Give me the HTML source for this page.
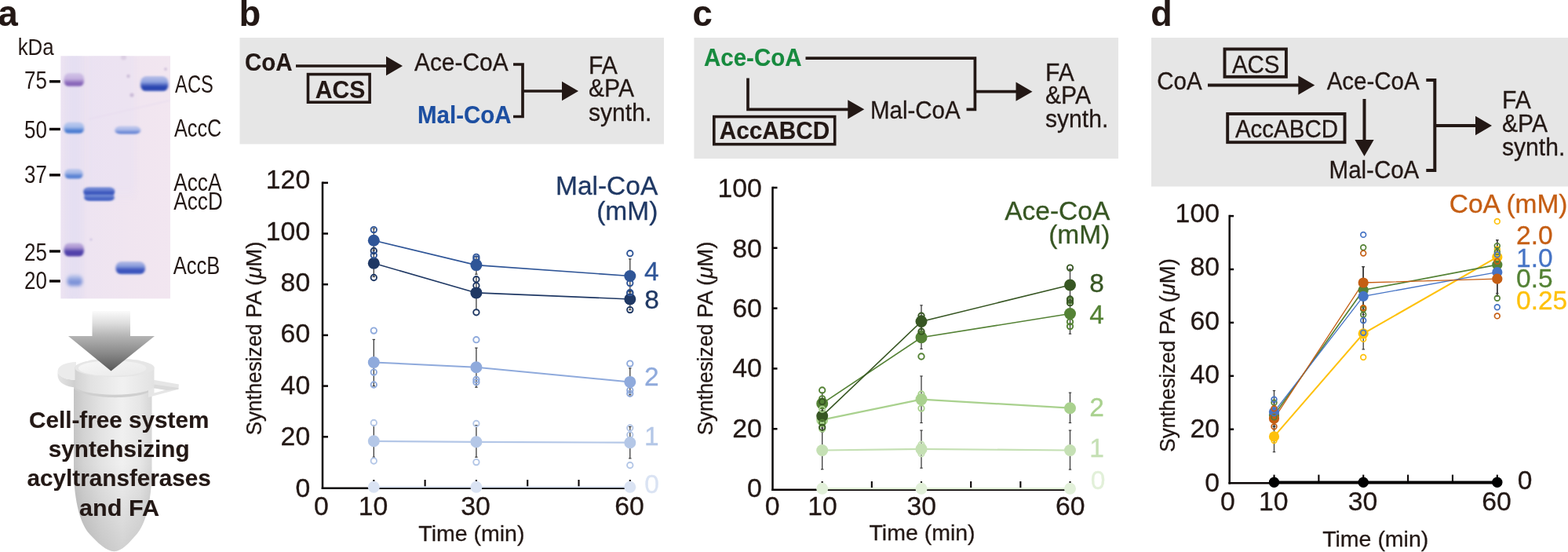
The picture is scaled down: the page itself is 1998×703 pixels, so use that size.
<!DOCTYPE html>
<html lang="en">
<head>
<meta charset="utf-8">
<title>Figure</title>
<style>
html,body{margin:0;padding:0;background:#fff;}
body{width:1998px;height:703px;overflow:hidden;}
svg{display:block;}
text{font-family:"Liberation Sans",sans-serif;}
</style>
</head>
<body>
<svg width="1998" height="703" viewBox="0 0 1998 703">
<rect width="1998" height="703" fill="#ffffff"/>
<g id="panel-a">
<text transform="translate(-2.6,33.4) scale(0.975,1)" font-size="46.5" font-weight="bold" fill="#231815" stroke="#231815" stroke-width="0.15" >a</text>
<defs>
<filter id="b1" x="-30%" y="-100%" width="160%" height="300%"><feGaussianBlur stdDeviation="1.4 1.2"/></filter>
<filter id="b2" x="-30%" y="-100%" width="160%" height="300%"><feGaussianBlur stdDeviation="2 2.2"/></filter>
<filter id="b3" x="-50%" y="-30%" width="200%" height="160%"><feGaussianBlur stdDeviation="3 6"/></filter>
<filter id="b4" x="-100%" y="-100%" width="300%" height="300%"><feGaussianBlur stdDeviation="0.9"/></filter>
<linearGradient id="gelbg" x1="0" y1="0" x2="1" y2="0">
<stop offset="0" stop-color="#ece3f2"/><stop offset="0.25" stop-color="#eee4f1"/><stop offset="0.6" stop-color="#f0e5f0"/><stop offset="1" stop-color="#f2e6f0"/>
</linearGradient>
<clipPath id="gelclip"><rect x="77.3" y="71.3" width="139.7" height="309"/></clipPath>
<linearGradient id="arrg" x1="0" y1="0" x2="0" y2="1">
<stop offset="0" stop-color="#fbfbfb"/><stop offset="0.2" stop-color="#dedede"/><stop offset="0.42" stop-color="#b4b4b4"/><stop offset="0.7" stop-color="#8a8a8a"/><stop offset="1" stop-color="#585858"/>
</linearGradient>
<linearGradient id="tubeg" x1="0" y1="0" x2="1" y2="0">
<stop offset="0" stop-color="#c4c4c4"/><stop offset="0.12" stop-color="#d2d2d2"/><stop offset="0.35" stop-color="#e3e3e3"/><stop offset="0.62" stop-color="#f0f0f0"/><stop offset="0.85" stop-color="#e6e6e6"/><stop offset="1" stop-color="#d6d6d6"/>
</linearGradient>
<linearGradient id="tubesh" gradientUnits="userSpaceOnUse" x1="0" y1="590" x2="0" y2="703">
<stop offset="0" stop-color="#000" stop-opacity="0"/><stop offset="1" stop-color="#000" stop-opacity="0.13"/>
</linearGradient>
<linearGradient id="capg" x1="0" y1="0" x2="1" y2="0">
<stop offset="0" stop-color="#d2d2d2"/><stop offset="0.2" stop-color="#e2e2e2"/><stop offset="0.6" stop-color="#f1f1f1"/><stop offset="1" stop-color="#e2e2e2"/>
</linearGradient>
<linearGradient id="tabg" x1="0" y1="0" x2="1" y2="0">
<stop offset="0" stop-color="#e4e4e4"/><stop offset="1" stop-color="#cecece"/>
</linearGradient>
<linearGradient id="topg" x1="0" y1="0" x2="1" y2="1">
<stop offset="0" stop-color="#f7f7f7"/><stop offset="1" stop-color="#e9e9e9"/>
</linearGradient>
</defs>
<rect x="77.3" y="71.3" width="139.7" height="309" fill="url(#gelbg)"/>
<g clip-path="url(#gelclip)">
<rect x="85" y="60" width="20" height="330" fill="#dcd9f2" opacity="0.42" filter="url(#b3)"/>
<rect x="112" y="60" width="60" height="190" fill="#e4def4" opacity="0.3" filter="url(#b3)"/>
<circle cx="163.5" cy="97" r="2.2" fill="#cdbfd9" filter="url(#b4)"/>
<circle cx="168" cy="121" r="2.6" fill="#cbbcd8" filter="url(#b4)"/>
<circle cx="157.5" cy="73" r="3.5" fill="#dccfe3" filter="url(#b4)"/>
<circle cx="211" cy="88" r="2" fill="#d2c4dc" filter="url(#b4)"/>
<circle cx="116" cy="305" r="1.6" fill="#cfc4e4" filter="url(#b4)"/>
<line x1="112" y1="152" x2="216" y2="128" stroke="#e6daee" stroke-width="1.2" filter="url(#b4)"/>
<linearGradient id="bg1" x1="0" y1="0" x2="0" y2="1"><stop offset="0" stop-color="#c4b0df" stop-opacity="0.55"/><stop offset="0.42" stop-color="#c4b0df"/><stop offset="0.72" stop-color="#8968ba"/><stop offset="0.9" stop-color="#8968ba"/><stop offset="1" stop-color="#c4b0df"/></linearGradient>
<rect x="81.5" y="93" width="25.5" height="17.5" rx="6.375" ry="7.95" fill="url(#bg1)" filter="url(#b1)"/>
<linearGradient id="bg2" x1="0" y1="0" x2="0" y2="1"><stop offset="0" stop-color="#a3bbea" stop-opacity="0.55"/><stop offset="0.42" stop-color="#a3bbea"/><stop offset="0.72" stop-color="#4d7ed2"/><stop offset="0.9" stop-color="#4d7ed2"/><stop offset="1" stop-color="#a3bbea"/></linearGradient>
<rect x="81.5" y="155.5" width="25.5" height="15.0" rx="6.375" ry="6.82" fill="url(#bg2)" filter="url(#b1)"/>
<linearGradient id="bg3" x1="0" y1="0" x2="0" y2="1"><stop offset="0" stop-color="#a6b9e8" stop-opacity="0.55"/><stop offset="0.38" stop-color="#a6b9e8"/><stop offset="0.68" stop-color="#5c84d4"/><stop offset="0.9" stop-color="#5c84d4"/><stop offset="1" stop-color="#a6b9e8"/></linearGradient>
<rect x="82.5" y="215" width="23.0" height="13" rx="5.75" ry="5.91" fill="url(#bg3)" filter="url(#b1)"/>
<linearGradient id="bg4" x1="0" y1="0" x2="0" y2="1"><stop offset="0" stop-color="#ab95d2" stop-opacity="0.55"/><stop offset="0.32" stop-color="#ab95d2"/><stop offset="0.62" stop-color="#5143aa"/><stop offset="0.9" stop-color="#5143aa"/><stop offset="1" stop-color="#ab95d2"/></linearGradient>
<rect x="81.5" y="309.5" width="25.5" height="17.5" rx="6.375" ry="7.95" fill="url(#bg4)" filter="url(#b1)"/>
<linearGradient id="bg5" x1="0" y1="0" x2="0" y2="1"><stop offset="0" stop-color="#a9b8e6" stop-opacity="0.55"/><stop offset="0.25" stop-color="#a9b8e6"/><stop offset="0.55" stop-color="#7b91d8"/><stop offset="0.9" stop-color="#7b91d8"/><stop offset="1" stop-color="#a9b8e6"/></linearGradient>
<rect x="85.5" y="350" width="19.5" height="14.5" rx="4.875" ry="6.59" fill="url(#bg5)" filter="url(#b2)"/>
<rect x="107.5" y="240" width="37.5" height="14" rx="6" fill="#5d76cc" filter="url(#b1)"/>
<linearGradient id="bg6" x1="0" y1="0" x2="0" y2="1"><stop offset="0" stop-color="#6f86d4" stop-opacity="0.55"/><stop offset="0.30" stop-color="#6f86d4"/><stop offset="0.60" stop-color="#3d59be"/><stop offset="0.9" stop-color="#3d59be"/><stop offset="1" stop-color="#6f86d4"/></linearGradient>
<rect x="106.5" y="238" width="39.5" height="11" rx="7" ry="5.0" fill="url(#bg6)" filter="url(#b1)"/>
<linearGradient id="bg7" x1="0" y1="0" x2="0" y2="1"><stop offset="0" stop-color="#7088d4" stop-opacity="0.55"/><stop offset="0.20" stop-color="#7088d4"/><stop offset="0.50" stop-color="#4865c4"/><stop offset="0.9" stop-color="#4865c4"/><stop offset="1" stop-color="#7088d4"/></linearGradient>
<rect x="107.5" y="248" width="38.0" height="8" rx="7" ry="3.64" fill="url(#bg7)" filter="url(#b1)"/>
<linearGradient id="bg8" x1="0" y1="0" x2="0" y2="1"><stop offset="0" stop-color="#a9b8e8" stop-opacity="0.55"/><stop offset="0.45" stop-color="#a9b8e8"/><stop offset="0.75" stop-color="#6c88d6"/><stop offset="0.9" stop-color="#6c88d6"/><stop offset="1" stop-color="#a9b8e8"/></linearGradient>
<rect x="146.5" y="160.5" width="32.5" height="10.5" rx="7" ry="4.77" fill="url(#bg8)" filter="url(#b1)"/>
<linearGradient id="bg9" x1="0" y1="0" x2="0" y2="1"><stop offset="0" stop-color="#8a9ddc" stop-opacity="0.55"/><stop offset="0.35" stop-color="#8a9ddc"/><stop offset="0.65" stop-color="#3c56be"/><stop offset="0.9" stop-color="#3c56be"/><stop offset="1" stop-color="#8a9ddc"/></linearGradient>
<rect x="147.5" y="333" width="37.5" height="16.5" rx="7" ry="7.5" fill="url(#bg9)" filter="url(#b1)"/>
<linearGradient id="bg10" x1="0" y1="0" x2="0" y2="1"><stop offset="0" stop-color="#8ea2e0" stop-opacity="0.55"/><stop offset="0.38" stop-color="#8ea2e0"/><stop offset="0.68" stop-color="#2b46b1"/><stop offset="0.9" stop-color="#2b46b1"/><stop offset="1" stop-color="#8ea2e0"/></linearGradient>
<rect x="179" y="97" width="35.5" height="19.5" rx="7" ry="8.86" fill="url(#bg10)" filter="url(#b1)"/>
</g>
<text transform="translate(59.9,113.0) scale(0.836,1)" font-size="31" fill="#231815" text-anchor="end">75</text>
<line x1="63" y1="103.8" x2="76.8" y2="103.8" stroke="#0a0505" stroke-width="3.4" />
<text transform="translate(59.9,175.6) scale(0.836,1)" font-size="31" fill="#231815" text-anchor="end">50</text>
<line x1="63" y1="164.5" x2="76.8" y2="164.5" stroke="#0a0505" stroke-width="3.4" />
<text transform="translate(59.9,233.2) scale(0.836,1)" font-size="31" fill="#231815" text-anchor="end">37</text>
<line x1="63" y1="222.9" x2="76.8" y2="222.9" stroke="#0a0505" stroke-width="3.4" />
<text transform="translate(59.9,331.6) scale(0.836,1)" font-size="31" fill="#231815" text-anchor="end">25</text>
<line x1="63" y1="320" x2="76.8" y2="320" stroke="#0a0505" stroke-width="3.4" />
<text transform="translate(59.9,368.2) scale(0.836,1)" font-size="31" fill="#231815" text-anchor="end">20</text>
<line x1="63" y1="358" x2="76.8" y2="358" stroke="#0a0505" stroke-width="3.4" />
<text transform="translate(22.7,69.5) scale(0.89,1)" font-size="29" fill="#231815">kDa</text>
<text transform="translate(223.1,118) scale(0.775,1)" font-size="30.6" fill="#231815">ACS</text>
<text transform="translate(222,173.8) scale(0.825,1)" font-size="30.6" fill="#231815">AccC</text>
<text transform="translate(221.3,243.4) scale(0.855,1)" font-size="30.6" fill="#231815">AccA</text>
<text transform="translate(221.3,266.7) scale(0.855,1)" font-size="30.6" fill="#231815">AccD</text>
<text transform="translate(220.8,349.3) scale(0.835,1)" font-size="30.6" fill="#231815">AccB</text>
<path d="M94,485 L94,600 C94.5,640 103,668 114,680 C124,691 136,702.3 145.5,702.3 C155,702.3 165,691 174.5,680 C185,668 193,640 193.5,600 L193.5,485 Z" fill="url(#tubeg)"/>
<path d="M94,485 L94,600 C94.5,640 103,668 114,680 C124,691 136,702.3 145.5,702.3 C155,702.3 165,691 174.5,680 C185,668 193,640 193.5,600 L193.5,485 Z" fill="url(#tubesh)"/>
<path d="M94,495 C112,509.5 178,509.5 193.5,497 L193.5,493 L94,491 Z" fill="#cfcfcf"/>
<path d="M194,483.5 L228,489.5 L227.3,495.8 L189,506 L189,490 Z" fill="#e6e6e6"/>
<path d="M196.5,494.2 L211.5,496.4 L196.5,500.6 Z" fill="#ffffff"/>
<path d="M196,489.5 L227.5,494 L227.3,495.8 L212,497 L196,494.2 Z" fill="#dadada"/>
<path d="M73.5,472.5 L73.5,478.4 A23.5,15 0 0 0 97,493.4 L97,484 A23.5,11.5 0 0 1 73.5,472.5 Z" fill="url(#tabg)"/>
<path d="M97,461 A23.5,11.5 0 0 0 97,484 Z" fill="#ebebeb"/>
<path d="M95.5,468.4 A50.5,11.7 0 0 1 196.5,468.4 L196.5,491 A50.5,11.7 0 0 1 95.5,491 Z" fill="url(#capg)"/>
<ellipse cx="146" cy="468.4" rx="50.5" ry="11.7" fill="#e6e6e6"/>
<ellipse cx="143.2" cy="469" rx="43.4" ry="9.8" fill="url(#topg)"/>
<path d="M117.5,396 L166,396 L166,428 L197,428 L141.5,472.5 L87,428 L117.5,428 Z" fill="url(#arrg)"/>
<text transform="translate(151.7,545.4) scale(0.9852,1)" font-size="30.15" font-weight="bold" fill="#231815" stroke="#231815" stroke-width="0.15" text-anchor="middle" >Cell-free system</text>
<text transform="translate(151.7,582.4) scale(0.9852,1)" font-size="30.15" font-weight="bold" fill="#231815" stroke="#231815" stroke-width="0.15" text-anchor="middle" >syntehsizing</text>
<text transform="translate(151.7,619.4) scale(0.9852,1)" font-size="30.15" font-weight="bold" fill="#231815" stroke="#231815" stroke-width="0.15" text-anchor="middle" >acyltransferases</text>
<text transform="translate(152,657.0) scale(1.0148,1)" font-size="30.15" font-weight="bold" fill="#231815" stroke="#231815" stroke-width="0.15" text-anchor="middle" >and FA</text>
</g>
<g id="panel-b">
<text transform="translate(304.8,33.2) scale(0.975,1)" font-size="46" font-weight="bold" fill="#231815" stroke="#231815" stroke-width="0.15" >b</text>
<rect x="305.5" y="48" width="540.5" height="135.5" fill="#e6e6e6"/>
<text transform="translate(312,90) scale(0.9579,1)" font-size="30.8" font-weight="bold" fill="#231815" stroke="#231815" stroke-width="0.15" >CoA</text>
<line x1="377" y1="84" x2="493" y2="84" stroke="#231815" stroke-width="3.7" />
<polygon points="492,71.85 513,84 492,96.15" fill="#231815"/>
<rect x="392.5" y="94.6" width="78.60000000000002" height="35.599999999999994" fill="none" stroke="#231815" stroke-width="3.6"/>
<text transform="translate(433.6,125.2) scale(0.9579,1)" font-size="31.42" font-weight="bold" fill="#231815" stroke="#231815" stroke-width="0.15" text-anchor="middle" >ACS</text>
<text transform="translate(528,90) scale(0.9579,1)" font-size="31.22" fill="#231815" stroke="#231815" stroke-width="0.3" >Ace-CoA</text>
<text transform="translate(532,156.5) scale(0.9579,1)" font-size="30.8" font-weight="bold" fill="#1d4fa1" stroke="#1d4fa1" stroke-width="0.15" >Mal-CoA</text>
<polyline points="654,82 666,82 666,148.5 654,148.5" fill="none" stroke="#231815" stroke-width="3.7" stroke-linejoin="miter"/>
<line x1="666" y1="116" x2="717" y2="116" stroke="#231815" stroke-width="3.7" />
<polygon points="716,103.85 737,116 716,128.15" fill="#231815"/>
<text transform="translate(750,93.5) scale(0.9579,1)" font-size="31.42" fill="#231815" stroke="#231815" stroke-width="0.3" >FA</text>
<text transform="translate(750,123.2) scale(0.9579,1)" font-size="31.42" fill="#231815" stroke="#231815" stroke-width="0.3" >&amp;PA</text>
<text transform="translate(750,153.5) scale(0.9579,1)" font-size="31.42" fill="#231815" stroke="#231815" stroke-width="0.3" >synth.</text>
<line x1="476.3" y1="582.2" x2="476.3" y2="541.7" stroke="#3c3c3c" stroke-width="1.3" />
<line x1="474.6" y1="582.2" x2="478.0" y2="582.2" stroke="#3c3c3c" stroke-width="1.2" />
<line x1="474.6" y1="541.7" x2="478.0" y2="541.7" stroke="#3c3c3c" stroke-width="1.2" />
<line x1="606.9" y1="582.2" x2="606.9" y2="541.7" stroke="#3c3c3c" stroke-width="1.3" />
<line x1="605.2" y1="582.2" x2="608.6" y2="582.2" stroke="#3c3c3c" stroke-width="1.2" />
<line x1="605.2" y1="541.7" x2="608.6" y2="541.7" stroke="#3c3c3c" stroke-width="1.2" />
<line x1="802.8" y1="583.8" x2="802.8" y2="543.4" stroke="#3c3c3c" stroke-width="1.3" />
<line x1="801.1" y1="583.8" x2="804.5" y2="583.8" stroke="#3c3c3c" stroke-width="1.2" />
<line x1="801.1" y1="543.4" x2="804.5" y2="543.4" stroke="#3c3c3c" stroke-width="1.2" />
<line x1="476.3" y1="491.6" x2="476.3" y2="432.4" stroke="#3c3c3c" stroke-width="1.3" />
<line x1="474.6" y1="491.6" x2="478.0" y2="491.6" stroke="#3c3c3c" stroke-width="1.2" />
<line x1="474.6" y1="432.4" x2="478.0" y2="432.4" stroke="#3c3c3c" stroke-width="1.2" />
<line x1="606.9" y1="493.2" x2="606.9" y2="443.1" stroke="#3c3c3c" stroke-width="1.3" />
<line x1="605.2" y1="493.2" x2="608.6" y2="493.2" stroke="#3c3c3c" stroke-width="1.2" />
<line x1="605.2" y1="443.1" x2="608.6" y2="443.1" stroke="#3c3c3c" stroke-width="1.2" />
<line x1="802.8" y1="502.9" x2="802.8" y2="469.0" stroke="#3c3c3c" stroke-width="1.3" />
<line x1="801.1" y1="502.9" x2="804.5" y2="502.9" stroke="#3c3c3c" stroke-width="1.2" />
<line x1="801.1" y1="469.0" x2="804.5" y2="469.0" stroke="#3c3c3c" stroke-width="1.2" />
<line x1="476.3" y1="352.5" x2="476.3" y2="318.5" stroke="#3c3c3c" stroke-width="1.3" />
<line x1="474.6" y1="352.5" x2="478.0" y2="352.5" stroke="#3c3c3c" stroke-width="1.2" />
<line x1="474.6" y1="318.5" x2="478.0" y2="318.5" stroke="#3c3c3c" stroke-width="1.2" />
<line x1="606.9" y1="394.6" x2="606.9" y2="352.5" stroke="#3c3c3c" stroke-width="1.3" />
<line x1="605.2" y1="394.6" x2="608.6" y2="394.6" stroke="#3c3c3c" stroke-width="1.2" />
<line x1="605.2" y1="352.5" x2="608.6" y2="352.5" stroke="#3c3c3c" stroke-width="1.2" />
<line x1="802.8" y1="394.6" x2="802.8" y2="368.7" stroke="#3c3c3c" stroke-width="1.3" />
<line x1="801.1" y1="394.6" x2="804.5" y2="394.6" stroke="#3c3c3c" stroke-width="1.2" />
<line x1="801.1" y1="368.7" x2="804.5" y2="368.7" stroke="#3c3c3c" stroke-width="1.2" />
<line x1="476.3" y1="323.4" x2="476.3" y2="291.0" stroke="#3c3c3c" stroke-width="1.3" />
<line x1="474.6" y1="323.4" x2="478.0" y2="323.4" stroke="#3c3c3c" stroke-width="1.2" />
<line x1="474.6" y1="291.0" x2="478.0" y2="291.0" stroke="#3c3c3c" stroke-width="1.2" />
<line x1="606.9" y1="349.3" x2="606.9" y2="326.6" stroke="#3c3c3c" stroke-width="1.3" />
<line x1="605.2" y1="349.3" x2="608.6" y2="349.3" stroke="#3c3c3c" stroke-width="1.2" />
<line x1="605.2" y1="326.6" x2="608.6" y2="326.6" stroke="#3c3c3c" stroke-width="1.2" />
<line x1="802.8" y1="371.9" x2="802.8" y2="329.9" stroke="#3c3c3c" stroke-width="1.3" />
<line x1="801.1" y1="371.9" x2="804.5" y2="371.9" stroke="#3c3c3c" stroke-width="1.2" />
<line x1="801.1" y1="329.9" x2="804.5" y2="329.9" stroke="#3c3c3c" stroke-width="1.2" />
<line x1="411" y1="231.55" x2="411" y2="622.95" stroke="#0a0505" stroke-width="2.5" />
<line x1="409.75" y1="621.7" x2="802.8" y2="621.7" stroke="#0a0505" stroke-width="2.5" />
<text x="395.2" y="632.5" font-size="33.8" fill="#231815" stroke="#231815" stroke-width="0.3" text-anchor="end" >0</text>
<line x1="411" y1="556.3" x2="418" y2="556.3" stroke="#0a0505" stroke-width="2.5" />
<text x="395.2" y="567.1" font-size="33.8" fill="#231815" stroke="#231815" stroke-width="0.3" text-anchor="end" >20</text>
<line x1="411" y1="491.6" x2="418" y2="491.6" stroke="#0a0505" stroke-width="2.5" />
<text x="395.2" y="501.7" font-size="33.8" fill="#231815" stroke="#231815" stroke-width="0.3" text-anchor="end" >40</text>
<line x1="411" y1="426.9" x2="418" y2="426.9" stroke="#0a0505" stroke-width="2.5" />
<text x="395.2" y="436.3" font-size="33.8" fill="#231815" stroke="#231815" stroke-width="0.3" text-anchor="end" >60</text>
<line x1="411" y1="362.2" x2="418" y2="362.2" stroke="#0a0505" stroke-width="2.5" />
<text x="395.2" y="370.9" font-size="33.8" fill="#231815" stroke="#231815" stroke-width="0.3" text-anchor="end" >80</text>
<line x1="411" y1="297.5" x2="418" y2="297.5" stroke="#0a0505" stroke-width="2.5" />
<text x="395.2" y="305.5" font-size="33.8" fill="#231815" stroke="#231815" stroke-width="0.3" text-anchor="end" >100</text>
<line x1="411" y1="232.8" x2="418" y2="232.8" stroke="#0a0505" stroke-width="2.5" />
<text x="395.2" y="240.1" font-size="33.8" fill="#231815" stroke="#231815" stroke-width="0.3" text-anchor="end" >120</text>
<line x1="476.3" y1="621" x2="476.3" y2="611" stroke="#0a0505" stroke-width="2.1" />
<line x1="541.6" y1="621" x2="541.6" y2="611" stroke="#0a0505" stroke-width="2.1" />
<line x1="606.9" y1="621" x2="606.9" y2="611" stroke="#0a0505" stroke-width="2.1" />
<line x1="672.2" y1="621" x2="672.2" y2="611" stroke="#0a0505" stroke-width="2.1" />
<line x1="737.5" y1="621" x2="737.5" y2="611" stroke="#0a0505" stroke-width="2.1" />
<line x1="802.8" y1="621" x2="802.8" y2="611" stroke="#0a0505" stroke-width="2.1" />
<text x="409.5" y="655.8" font-size="33.8" fill="#231815" stroke="#231815" stroke-width="0.3" text-anchor="middle" >0</text>
<text x="475.5" y="655.8" font-size="33.8" fill="#231815" stroke="#231815" stroke-width="0.3" text-anchor="middle" >10</text>
<text x="606.1" y="655.8" font-size="33.8" fill="#231815" stroke="#231815" stroke-width="0.3" text-anchor="middle" >30</text>
<text x="802.0" y="655.8" font-size="33.8" fill="#231815" stroke="#231815" stroke-width="0.3" text-anchor="middle" >60</text>
<text x="600.9" y="688.5" font-size="28.5" fill="#231815" stroke="#231815" stroke-width="0.3" text-anchor="middle" >Time (min)</text>
<text transform="translate(333.0,554.3) rotate(-90) scale(0.934,1)" font-size="27.9" fill="#231815" stroke="#231815" stroke-width="0.3">Synthesized</text>
<text transform="translate(333.0,307.7) rotate(-90) scale(0.986,1)" font-size="27.9" fill="#231815" stroke="#231815" stroke-width="0.3" text-anchor="end">PA (<tspan font-style="italic">μ</tspan>M)</text>
<polyline points="476.3,620.2 606.9,620.2 802.8,620.2" fill="none" stroke="#dae3f3" stroke-width="2.0"/>
<polyline points="476.3,561.8 606.9,562.8 802.8,563.7" fill="none" stroke="#b4c7e7" stroke-width="2.2"/>
<polyline points="476.3,461.5 606.9,467.7 802.8,486.4" fill="none" stroke="#8faadc" stroke-width="2.0"/>
<polyline points="476.3,335.3 606.9,372.9 802.8,381.0" fill="none" stroke="#1f3864" stroke-width="1.6"/>
<polyline points="476.3,306.2 606.9,337.6 802.8,351.5" fill="none" stroke="#2f5597" stroke-width="1.6"/>
<circle cx="476.3" cy="620.2" r="7.5" fill="#dae3f3"/>
<circle cx="606.9" cy="620.2" r="7.5" fill="#dae3f3"/>
<circle cx="802.8" cy="620.2" r="7.5" fill="#dae3f3"/>
<circle cx="476.3" cy="561.8" r="7.5" fill="#b4c7e7"/>
<circle cx="606.9" cy="562.8" r="7.5" fill="#b4c7e7"/>
<circle cx="802.8" cy="563.7" r="7.5" fill="#b4c7e7"/>
<circle cx="476.3" cy="461.5" r="7.5" fill="#8faadc"/>
<circle cx="606.9" cy="467.7" r="7.5" fill="#8faadc"/>
<circle cx="802.8" cy="486.4" r="7.5" fill="#8faadc"/>
<circle cx="476.3" cy="335.3" r="7.5" fill="#1f3864"/>
<circle cx="606.9" cy="372.9" r="7.5" fill="#1f3864"/>
<circle cx="802.8" cy="381.0" r="7.5" fill="#1f3864"/>
<circle cx="476.3" cy="306.2" r="7.5" fill="#2f5597"/>
<circle cx="606.9" cy="337.6" r="7.5" fill="#2f5597"/>
<circle cx="802.8" cy="351.5" r="7.5" fill="#2f5597"/>
<circle cx="476.3" cy="538.5" r="3.7" fill="none" stroke="#b4c7e7" stroke-width="1.9"/>
<circle cx="476.3" cy="587.0" r="3.7" fill="none" stroke="#b4c7e7" stroke-width="1.9"/>
<circle cx="606.9" cy="539.5" r="3.7" fill="none" stroke="#b4c7e7" stroke-width="1.9"/>
<circle cx="606.9" cy="588.6" r="3.7" fill="none" stroke="#b4c7e7" stroke-width="1.9"/>
<circle cx="802.8" cy="545.0" r="3.7" fill="none" stroke="#b4c7e7" stroke-width="1.9"/>
<circle cx="802.8" cy="553.7" r="3.7" fill="none" stroke="#b4c7e7" stroke-width="1.9"/>
<circle cx="802.8" cy="592.5" r="3.7" fill="none" stroke="#b4c7e7" stroke-width="1.9"/>
<circle cx="476.3" cy="421.1" r="3.7" fill="none" stroke="#8faadc" stroke-width="1.9"/>
<circle cx="476.3" cy="474.1" r="3.7" fill="none" stroke="#8faadc" stroke-width="1.9"/>
<circle cx="476.3" cy="490.0" r="3.7" fill="none" stroke="#8faadc" stroke-width="1.9"/>
<circle cx="606.9" cy="432.7" r="3.7" fill="none" stroke="#8faadc" stroke-width="1.9"/>
<circle cx="606.9" cy="483.5" r="3.7" fill="none" stroke="#8faadc" stroke-width="1.9"/>
<circle cx="606.9" cy="486.7" r="3.7" fill="none" stroke="#8faadc" stroke-width="1.9"/>
<circle cx="802.8" cy="463.1" r="3.7" fill="none" stroke="#8faadc" stroke-width="1.9"/>
<circle cx="802.8" cy="497.1" r="3.7" fill="none" stroke="#8faadc" stroke-width="1.9"/>
<circle cx="802.8" cy="501.3" r="3.7" fill="none" stroke="#8faadc" stroke-width="1.9"/>
<circle cx="476.3" cy="319.5" r="3.7" fill="none" stroke="#1f3864" stroke-width="1.9"/>
<circle cx="476.3" cy="353.5" r="3.7" fill="none" stroke="#1f3864" stroke-width="1.9"/>
<circle cx="606.9" cy="355.7" r="3.7" fill="none" stroke="#1f3864" stroke-width="1.9"/>
<circle cx="606.9" cy="363.8" r="3.7" fill="none" stroke="#1f3864" stroke-width="1.9"/>
<circle cx="606.9" cy="397.8" r="3.7" fill="none" stroke="#1f3864" stroke-width="1.9"/>
<circle cx="802.8" cy="394.6" r="3.7" fill="none" stroke="#1f3864" stroke-width="1.9"/>
<circle cx="802.8" cy="373.5" r="3.7" fill="none" stroke="#1f3864" stroke-width="1.9"/>
<circle cx="476.3" cy="292.6" r="3.7" fill="none" stroke="#2f5597" stroke-width="1.9"/>
<circle cx="476.3" cy="325.0" r="3.7" fill="none" stroke="#2f5597" stroke-width="1.9"/>
<circle cx="606.9" cy="327.3" r="3.7" fill="none" stroke="#2f5597" stroke-width="1.9"/>
<circle cx="606.9" cy="329.9" r="3.7" fill="none" stroke="#2f5597" stroke-width="1.9"/>
<circle cx="802.8" cy="322.7" r="3.7" fill="none" stroke="#2f5597" stroke-width="1.9"/>
<circle cx="802.8" cy="360.6" r="3.7" fill="none" stroke="#2f5597" stroke-width="1.9"/>
<circle cx="802.8" cy="372.6" r="3.7" fill="none" stroke="#2f5597" stroke-width="1.9"/>
<text x="838.3" y="247.5" font-size="33.5" fill="#1f3864" stroke="#1f3864" stroke-width="0.3" text-anchor="end" >Mal-CoA</text>
<text x="838.3" y="279.5" font-size="33.5" fill="#1f3864" stroke="#1f3864" stroke-width="0.3" text-anchor="end" >(mM)</text>
<text x="830.3" y="357" font-size="33.5" fill="#2f5597" stroke="#2f5597" stroke-width="0.3" text-anchor="middle" >4</text>
<text x="830.5" y="393.2" font-size="33.5" fill="#1f3864" stroke="#1f3864" stroke-width="0.3" text-anchor="middle" >8</text>
<text x="830.3" y="491.4" font-size="33.5" fill="#8faadc" stroke="#8faadc" stroke-width="0.3" text-anchor="middle" >2</text>
<text x="830.3" y="567.2" font-size="33.5" fill="#b4c7e7" stroke="#b4c7e7" stroke-width="0.3" text-anchor="middle" >1</text>
<text x="830.5" y="628.2" font-size="33.5" fill="#dae3f3" stroke="#dae3f3" stroke-width="0.3" text-anchor="middle" >0</text>
</g>
<g id="panel-c">
<text transform="translate(882.5,33.3) scale(0.975,1)" font-size="46.5" font-weight="bold" fill="#231815" stroke="#231815" stroke-width="0.15" >c</text>
<rect x="884.4" y="48" width="540.6" height="154" fill="#e6e6e6"/>
<text transform="translate(897,84) scale(0.9579,1)" font-size="30.8" font-weight="bold" fill="#178a3e" stroke="#178a3e" stroke-width="0.15" >Ace-CoA</text>
<polyline points="1026.5,74.2 1242.4,74.2 1242.4,139.3 1231.5,139.3" fill="none" stroke="#231815" stroke-width="3.7" stroke-linejoin="miter"/>
<line x1="1242" y1="116.7" x2="1295.5" y2="116.7" stroke="#231815" stroke-width="3.7" />
<polygon points="1294.5,104.55 1315.5,116.7 1294.5,128.85" fill="#231815"/>
<polyline points="953,99.5 953,139.3 1082,139.3" fill="none" stroke="#231815" stroke-width="3.7" stroke-linejoin="miter"/>
<polygon points="1080.3,127.2 1101.3,139.3 1080.3,151.4" fill="#231815"/>
<rect x="909.8" y="148.6" width="153.9000000000001" height="35.099999999999994" fill="none" stroke="#231815" stroke-width="3.6"/>
<text transform="translate(987,177.3) scale(0.9579,1)" font-size="31.11" font-weight="bold" fill="#231815" stroke="#231815" stroke-width="0.15" text-anchor="middle" >AccABCD</text>
<text transform="translate(1109,150.8) scale(0.9579,1)" font-size="30.8" fill="#231815" stroke="#231815" stroke-width="0.3" >Mal-CoA</text>
<text transform="translate(1332,102.6) scale(0.9579,1)" font-size="31.42" fill="#231815" stroke="#231815" stroke-width="0.3" >FA</text>
<text transform="translate(1332,132.3) scale(0.9579,1)" font-size="31.42" fill="#231815" stroke="#231815" stroke-width="0.3" >&amp;PA</text>
<text transform="translate(1332,162.1) scale(0.9579,1)" font-size="31.42" fill="#231815" stroke="#231815" stroke-width="0.3" >synth.</text>
<line x1="1047.7" y1="597.7" x2="1047.7" y2="545.0" stroke="#3c3c3c" stroke-width="1.3" />
<line x1="1046.0" y1="597.7" x2="1049.4" y2="597.7" stroke="#3c3c3c" stroke-width="1.2" />
<line x1="1046.0" y1="545.0" x2="1049.4" y2="545.0" stroke="#3c3c3c" stroke-width="1.2" />
<line x1="1174.0" y1="596.1" x2="1174.0" y2="548.1" stroke="#3c3c3c" stroke-width="1.3" />
<line x1="1172.3" y1="596.1" x2="1175.7" y2="596.1" stroke="#3c3c3c" stroke-width="1.2" />
<line x1="1172.3" y1="548.1" x2="1175.7" y2="548.1" stroke="#3c3c3c" stroke-width="1.2" />
<line x1="1363.5" y1="598.0" x2="1363.5" y2="548.1" stroke="#3c3c3c" stroke-width="1.3" />
<line x1="1361.8" y1="598.0" x2="1365.2" y2="598.0" stroke="#3c3c3c" stroke-width="1.2" />
<line x1="1361.8" y1="548.1" x2="1365.2" y2="548.1" stroke="#3c3c3c" stroke-width="1.2" />
<line x1="1047.7" y1="550.0" x2="1047.7" y2="519.3" stroke="#3c3c3c" stroke-width="1.3" />
<line x1="1046.0" y1="550.0" x2="1049.4" y2="550.0" stroke="#3c3c3c" stroke-width="1.2" />
<line x1="1046.0" y1="519.3" x2="1049.4" y2="519.3" stroke="#3c3c3c" stroke-width="1.2" />
<line x1="1174.0" y1="538.5" x2="1174.0" y2="479.0" stroke="#3c3c3c" stroke-width="1.3" />
<line x1="1172.3" y1="538.5" x2="1175.7" y2="538.5" stroke="#3c3c3c" stroke-width="1.2" />
<line x1="1172.3" y1="479.0" x2="1175.7" y2="479.0" stroke="#3c3c3c" stroke-width="1.2" />
<line x1="1363.5" y1="538.5" x2="1363.5" y2="500.1" stroke="#3c3c3c" stroke-width="1.3" />
<line x1="1361.8" y1="538.5" x2="1365.2" y2="538.5" stroke="#3c3c3c" stroke-width="1.2" />
<line x1="1361.8" y1="500.1" x2="1365.2" y2="500.1" stroke="#3c3c3c" stroke-width="1.2" />
<line x1="1047.7" y1="538.5" x2="1047.7" y2="500.1" stroke="#3c3c3c" stroke-width="1.3" />
<line x1="1046.0" y1="538.5" x2="1049.4" y2="538.5" stroke="#3c3c3c" stroke-width="1.2" />
<line x1="1046.0" y1="500.1" x2="1049.4" y2="500.1" stroke="#3c3c3c" stroke-width="1.2" />
<line x1="1174.0" y1="444.4" x2="1174.0" y2="415.6" stroke="#3c3c3c" stroke-width="1.3" />
<line x1="1172.3" y1="444.4" x2="1175.7" y2="444.4" stroke="#3c3c3c" stroke-width="1.2" />
<line x1="1172.3" y1="415.6" x2="1175.7" y2="415.6" stroke="#3c3c3c" stroke-width="1.2" />
<line x1="1363.5" y1="425.2" x2="1363.5" y2="377.2" stroke="#3c3c3c" stroke-width="1.3" />
<line x1="1361.8" y1="425.2" x2="1365.2" y2="425.2" stroke="#3c3c3c" stroke-width="1.2" />
<line x1="1361.8" y1="377.2" x2="1365.2" y2="377.2" stroke="#3c3c3c" stroke-width="1.2" />
<line x1="1047.7" y1="550.0" x2="1047.7" y2="511.6" stroke="#3c3c3c" stroke-width="1.3" />
<line x1="1046.0" y1="550.0" x2="1049.4" y2="550.0" stroke="#3c3c3c" stroke-width="1.2" />
<line x1="1046.0" y1="511.6" x2="1049.4" y2="511.6" stroke="#3c3c3c" stroke-width="1.2" />
<line x1="1174.0" y1="431.0" x2="1174.0" y2="388.8" stroke="#3c3c3c" stroke-width="1.3" />
<line x1="1172.3" y1="431.0" x2="1175.7" y2="431.0" stroke="#3c3c3c" stroke-width="1.2" />
<line x1="1172.3" y1="388.8" x2="1175.7" y2="388.8" stroke="#3c3c3c" stroke-width="1.2" />
<line x1="1363.5" y1="384.9" x2="1363.5" y2="342.7" stroke="#3c3c3c" stroke-width="1.3" />
<line x1="1361.8" y1="384.9" x2="1365.2" y2="384.9" stroke="#3c3c3c" stroke-width="1.2" />
<line x1="1361.8" y1="342.7" x2="1365.2" y2="342.7" stroke="#3c3c3c" stroke-width="1.2" />
<line x1="984.5" y1="237.75" x2="984.5" y2="624.95" stroke="#0a0505" stroke-width="2.5" />
<line x1="983.25" y1="623.7" x2="1363.52" y2="623.7" stroke="#0a0505" stroke-width="2.5" />
<text x="970.8" y="632.9" font-size="33.8" fill="#231815" stroke="#231815" stroke-width="0.3" text-anchor="end" >0</text>
<line x1="984.5" y1="546.2" x2="990.5" y2="546.2" stroke="#0a0505" stroke-width="2.5" />
<text x="970.8" y="556.6" font-size="33.8" fill="#231815" stroke="#231815" stroke-width="0.3" text-anchor="end" >20</text>
<line x1="984.5" y1="469.4" x2="990.5" y2="469.4" stroke="#0a0505" stroke-width="2.5" />
<text x="970.8" y="480.2" font-size="33.8" fill="#231815" stroke="#231815" stroke-width="0.3" text-anchor="end" >40</text>
<line x1="984.5" y1="392.6" x2="990.5" y2="392.6" stroke="#0a0505" stroke-width="2.5" />
<text x="970.8" y="404.0" font-size="33.8" fill="#231815" stroke="#231815" stroke-width="0.3" text-anchor="end" >60</text>
<line x1="984.5" y1="315.8" x2="990.5" y2="315.8" stroke="#0a0505" stroke-width="2.5" />
<text x="970.8" y="327.7" font-size="33.8" fill="#231815" stroke="#231815" stroke-width="0.3" text-anchor="end" >80</text>
<line x1="984.5" y1="239.0" x2="990.5" y2="239.0" stroke="#0a0505" stroke-width="2.5" />
<text x="970.8" y="251.4" font-size="33.8" fill="#231815" stroke="#231815" stroke-width="0.3" text-anchor="end" >100</text>
<line x1="1047.67" y1="623" x2="1047.67" y2="613" stroke="#0a0505" stroke-width="2.1" />
<line x1="1110.84" y1="623" x2="1110.84" y2="613" stroke="#0a0505" stroke-width="2.1" />
<line x1="1174.01" y1="623" x2="1174.01" y2="613" stroke="#0a0505" stroke-width="2.1" />
<line x1="1237.18" y1="623" x2="1237.18" y2="613" stroke="#0a0505" stroke-width="2.1" />
<line x1="1300.35" y1="623" x2="1300.35" y2="613" stroke="#0a0505" stroke-width="2.1" />
<line x1="1363.52" y1="623" x2="1363.52" y2="613" stroke="#0a0505" stroke-width="2.1" />
<text x="984.1" y="656.1" font-size="33.8" fill="#231815" stroke="#231815" stroke-width="0.3" text-anchor="middle" >0</text>
<text x="1048.0" y="656.1" font-size="33.8" fill="#231815" stroke="#231815" stroke-width="0.3" text-anchor="middle" >10</text>
<text x="1174.3" y="656.1" font-size="33.8" fill="#231815" stroke="#231815" stroke-width="0.3" text-anchor="middle" >30</text>
<text x="1363.8" y="656.1" font-size="33.8" fill="#231815" stroke="#231815" stroke-width="0.3" text-anchor="middle" >60</text>
<text x="1175.01" y="687.8" font-size="28.5" fill="#231815" stroke="#231815" stroke-width="0.3" text-anchor="middle" >Time (min)</text>
<text transform="translate(908.0,554.3) rotate(-90) scale(0.934,1)" font-size="27.9" fill="#231815" stroke="#231815" stroke-width="0.3">Synthesized</text>
<text transform="translate(908.0,307.7) rotate(-90) scale(0.986,1)" font-size="27.9" fill="#231815" stroke="#231815" stroke-width="0.3" text-anchor="end">PA (<tspan font-style="italic">μ</tspan>M)</text>
<polyline points="1047.7,622.2 1174.0,622.2 1363.5,622.2" fill="none" stroke="#e2f0d9" stroke-width="2.2"/>
<polyline points="1047.7,573.5 1174.0,571.9 1363.5,573.5" fill="none" stroke="#c5e0b4" stroke-width="2.2"/>
<polyline points="1047.7,534.7 1174.0,508.6 1363.5,519.7" fill="none" stroke="#a9d18e" stroke-width="2.2"/>
<polyline points="1047.7,513.9 1174.0,429.8 1363.5,399.5" fill="none" stroke="#548235" stroke-width="1.6"/>
<polyline points="1047.7,529.7 1174.0,409.5 1363.5,363.0" fill="none" stroke="#375623" stroke-width="1.6"/>
<circle cx="1047.7" cy="622.2" r="7.5" fill="#e2f0d9"/>
<circle cx="1174.0" cy="622.2" r="7.5" fill="#e2f0d9"/>
<circle cx="1363.5" cy="622.2" r="7.5" fill="#e2f0d9"/>
<circle cx="1047.7" cy="573.5" r="7.5" fill="#c5e0b4"/>
<circle cx="1174.0" cy="571.9" r="7.5" fill="#c5e0b4"/>
<circle cx="1363.5" cy="573.5" r="7.5" fill="#c5e0b4"/>
<circle cx="1047.7" cy="534.7" r="7.5" fill="#a9d18e"/>
<circle cx="1174.0" cy="508.6" r="7.5" fill="#a9d18e"/>
<circle cx="1363.5" cy="519.7" r="7.5" fill="#a9d18e"/>
<circle cx="1047.7" cy="513.9" r="7.5" fill="#548235"/>
<circle cx="1174.0" cy="429.8" r="7.5" fill="#548235"/>
<circle cx="1363.5" cy="399.5" r="7.5" fill="#548235"/>
<circle cx="1047.7" cy="529.7" r="7.5" fill="#375623"/>
<circle cx="1174.0" cy="409.5" r="7.5" fill="#375623"/>
<circle cx="1363.5" cy="363.0" r="7.5" fill="#375623"/>
<circle cx="1174.0" cy="566.2" r="3.7" fill="none" stroke="#c5e0b4" stroke-width="1.9"/>
<circle cx="1174.0" cy="577.7" r="3.7" fill="none" stroke="#c5e0b4" stroke-width="1.9"/>
<circle cx="1047.7" cy="521.2" r="3.7" fill="none" stroke="#a9d18e" stroke-width="1.9"/>
<circle cx="1047.7" cy="546.2" r="3.7" fill="none" stroke="#a9d18e" stroke-width="1.9"/>
<circle cx="1174.0" cy="502.0" r="3.7" fill="none" stroke="#a9d18e" stroke-width="1.9"/>
<circle cx="1174.0" cy="520.1" r="3.7" fill="none" stroke="#a9d18e" stroke-width="1.9"/>
<circle cx="1047.7" cy="497.0" r="3.7" fill="none" stroke="#548235" stroke-width="1.9"/>
<circle cx="1047.7" cy="507.8" r="3.7" fill="none" stroke="#548235" stroke-width="1.9"/>
<circle cx="1047.7" cy="538.5" r="3.7" fill="none" stroke="#548235" stroke-width="1.9"/>
<circle cx="1174.0" cy="425.2" r="3.7" fill="none" stroke="#548235" stroke-width="1.9"/>
<circle cx="1174.0" cy="454.0" r="3.7" fill="none" stroke="#548235" stroke-width="1.9"/>
<circle cx="1363.5" cy="383.0" r="3.7" fill="none" stroke="#548235" stroke-width="1.9"/>
<circle cx="1363.5" cy="409.9" r="3.7" fill="none" stroke="#548235" stroke-width="1.9"/>
<circle cx="1363.5" cy="415.6" r="3.7" fill="none" stroke="#548235" stroke-width="1.9"/>
<circle cx="1047.7" cy="511.6" r="3.7" fill="none" stroke="#375623" stroke-width="1.9"/>
<circle cx="1047.7" cy="544.3" r="3.7" fill="none" stroke="#375623" stroke-width="1.9"/>
<circle cx="1174.0" cy="402.2" r="3.7" fill="none" stroke="#375623" stroke-width="1.9"/>
<circle cx="1174.0" cy="406.0" r="3.7" fill="none" stroke="#375623" stroke-width="1.9"/>
<circle cx="1174.0" cy="422.2" r="3.7" fill="none" stroke="#375623" stroke-width="1.9"/>
<circle cx="1363.5" cy="341.1" r="3.7" fill="none" stroke="#375623" stroke-width="1.9"/>
<circle cx="1363.5" cy="381.1" r="3.7" fill="none" stroke="#375623" stroke-width="1.9"/>
<circle cx="1363.5" cy="385.7" r="3.7" fill="none" stroke="#375623" stroke-width="1.9"/>
<text x="1414.3" y="279.5" font-size="33.5" fill="#375623" stroke="#375623" stroke-width="0.3" text-anchor="end" >Ace-CoA</text>
<text x="1414.3" y="309.6" font-size="33.5" fill="#375623" stroke="#375623" stroke-width="0.3" text-anchor="end" >(mM)</text>
<text x="1397.5" y="371.6" font-size="33.5" fill="#375623" stroke="#375623" stroke-width="0.3" text-anchor="middle" >8</text>
<text x="1397.5" y="411.8" font-size="33.5" fill="#548235" stroke="#548235" stroke-width="0.3" text-anchor="middle" >4</text>
<text x="1397.5" y="529.8" font-size="33.5" fill="#a9d18e" stroke="#a9d18e" stroke-width="0.3" text-anchor="middle" >2</text>
<text x="1397.5" y="582" font-size="33.5" fill="#c5e0b4" stroke="#c5e0b4" stroke-width="0.3" text-anchor="middle" >1</text>
<text x="1399" y="623.2" font-size="33.5" fill="#e2f0d9" stroke="#e2f0d9" stroke-width="0.3" text-anchor="middle" >0</text>
</g>
<g id="panel-d">
<text transform="translate(1466.3,33) scale(0.975,1)" font-size="46" font-weight="bold" fill="#231815" stroke="#231815" stroke-width="0.15" >d</text>
<rect x="1467" y="48" width="531" height="189.5" fill="#e6e6e6"/>
<text transform="translate(1474.2,113.8) scale(0.9579,1)" font-size="30.8" fill="#231815" stroke="#231815" stroke-width="0.3" >CoA</text>
<line x1="1539" y1="108.5" x2="1655.3" y2="108.5" stroke="#231815" stroke-width="4" />
<polygon points="1654.3,96.35 1675.3,108.5 1654.3,120.65" fill="#231815"/>
<rect x="1560.5" y="62.5" width="78.40000000000009" height="35.3" fill="none" stroke="#231815" stroke-width="3.9"/>
<text transform="translate(1600.2,92.5) scale(0.9579,1)" font-size="30.8" fill="#231815" stroke="#231815" stroke-width="0.3" text-anchor="middle" >ACS</text>
<text transform="translate(1690.7,113.8) scale(0.9579,1)" font-size="30.8" fill="#231815" stroke="#231815" stroke-width="0.3" >Ace-CoA</text>
<line x1="1738.5" y1="126" x2="1738.5" y2="179" stroke="#231815" stroke-width="4" />
<polygon points="1726.35,178 1738.5,199 1750.65,178" fill="#231815"/>
<rect x="1564.2" y="145" width="149.29999999999995" height="36.19999999999999" fill="none" stroke="#231815" stroke-width="3.9"/>
<text transform="translate(1639.5,175) scale(0.9579,1)" font-size="30.8" fill="#231815" stroke="#231815" stroke-width="0.3" text-anchor="middle" >AccABCD</text>
<text transform="translate(1693.6,227.1) scale(0.9579,1)" font-size="30.8" fill="#231815" stroke="#231815" stroke-width="0.3" >Mal-CoA</text>
<polyline points="1817.3,102 1828.3,102 1828.3,217 1817.3,217" fill="none" stroke="#231815" stroke-width="4" stroke-linejoin="miter"/>
<line x1="1828.3" y1="160" x2="1881" y2="160" stroke="#231815" stroke-width="4" />
<polygon points="1880,147.85 1901,160 1880,172.15" fill="#231815"/>
<text transform="translate(1914,138.2) scale(0.9579,1)" font-size="31.42" fill="#231815" stroke="#231815" stroke-width="0.3" >FA</text>
<text transform="translate(1914,168.2) scale(0.9579,1)" font-size="31.42" fill="#231815" stroke="#231815" stroke-width="0.3" >&amp;PA</text>
<text transform="translate(1914,197.7) scale(0.9579,1)" font-size="31.42" fill="#231815" stroke="#231815" stroke-width="0.3" >synth.</text>
<line x1="1623.5" y1="575.6" x2="1623.5" y2="543.3" stroke="#3c3c3c" stroke-width="1.3" />
<line x1="1621.8" y1="575.6" x2="1625.2" y2="575.6" stroke="#3c3c3c" stroke-width="1.2" />
<line x1="1621.8" y1="543.3" x2="1625.2" y2="543.3" stroke="#3c3c3c" stroke-width="1.2" />
<line x1="1737.2" y1="444.9" x2="1737.2" y2="404.1" stroke="#3c3c3c" stroke-width="1.3" />
<line x1="1735.5" y1="444.9" x2="1739.0" y2="444.9" stroke="#3c3c3c" stroke-width="1.2" />
<line x1="1735.5" y1="404.1" x2="1739.0" y2="404.1" stroke="#3c3c3c" stroke-width="1.2" />
<line x1="1907.8" y1="349.8" x2="1907.8" y2="305.7" stroke="#3c3c3c" stroke-width="1.3" />
<line x1="1906.1" y1="349.8" x2="1909.5" y2="349.8" stroke="#3c3c3c" stroke-width="1.2" />
<line x1="1906.1" y1="305.7" x2="1909.5" y2="305.7" stroke="#3c3c3c" stroke-width="1.2" />
<line x1="1623.5" y1="543.3" x2="1623.5" y2="512.8" stroke="#3c3c3c" stroke-width="1.3" />
<line x1="1621.8" y1="543.3" x2="1625.2" y2="543.3" stroke="#3c3c3c" stroke-width="1.2" />
<line x1="1621.8" y1="512.8" x2="1625.2" y2="512.8" stroke="#3c3c3c" stroke-width="1.2" />
<line x1="1737.2" y1="400.7" x2="1737.2" y2="339.6" stroke="#3c3c3c" stroke-width="1.3" />
<line x1="1735.5" y1="400.7" x2="1739.0" y2="400.7" stroke="#3c3c3c" stroke-width="1.2" />
<line x1="1735.5" y1="339.6" x2="1739.0" y2="339.6" stroke="#3c3c3c" stroke-width="1.2" />
<line x1="1907.8" y1="377.0" x2="1907.8" y2="305.7" stroke="#3c3c3c" stroke-width="1.3" />
<line x1="1906.1" y1="377.0" x2="1909.5" y2="377.0" stroke="#3c3c3c" stroke-width="1.2" />
<line x1="1906.1" y1="305.7" x2="1909.5" y2="305.7" stroke="#3c3c3c" stroke-width="1.2" />
<line x1="1623.5" y1="543.3" x2="1623.5" y2="497.5" stroke="#3c3c3c" stroke-width="1.3" />
<line x1="1621.8" y1="543.3" x2="1625.2" y2="543.3" stroke="#3c3c3c" stroke-width="1.2" />
<line x1="1621.8" y1="497.5" x2="1625.2" y2="497.5" stroke="#3c3c3c" stroke-width="1.2" />
<line x1="1737.2" y1="410.9" x2="1737.2" y2="339.6" stroke="#3c3c3c" stroke-width="1.3" />
<line x1="1735.5" y1="410.9" x2="1739.0" y2="410.9" stroke="#3c3c3c" stroke-width="1.2" />
<line x1="1735.5" y1="339.6" x2="1739.0" y2="339.6" stroke="#3c3c3c" stroke-width="1.2" />
<line x1="1907.8" y1="373.6" x2="1907.8" y2="315.8" stroke="#3c3c3c" stroke-width="1.3" />
<line x1="1906.1" y1="373.6" x2="1909.5" y2="373.6" stroke="#3c3c3c" stroke-width="1.2" />
<line x1="1906.1" y1="315.8" x2="1909.5" y2="315.8" stroke="#3c3c3c" stroke-width="1.2" />
<line x1="1623.5" y1="546.7" x2="1623.5" y2="519.5" stroke="#3c3c3c" stroke-width="1.3" />
<line x1="1621.8" y1="546.7" x2="1625.2" y2="546.7" stroke="#3c3c3c" stroke-width="1.2" />
<line x1="1621.8" y1="519.5" x2="1625.2" y2="519.5" stroke="#3c3c3c" stroke-width="1.2" />
<line x1="1737.2" y1="393.9" x2="1737.2" y2="339.6" stroke="#3c3c3c" stroke-width="1.3" />
<line x1="1735.5" y1="393.9" x2="1739.0" y2="393.9" stroke="#3c3c3c" stroke-width="1.2" />
<line x1="1735.5" y1="339.6" x2="1739.0" y2="339.6" stroke="#3c3c3c" stroke-width="1.2" />
<line x1="1907.8" y1="377.0" x2="1907.8" y2="322.6" stroke="#3c3c3c" stroke-width="1.3" />
<line x1="1906.1" y1="377.0" x2="1909.5" y2="377.0" stroke="#3c3c3c" stroke-width="1.2" />
<line x1="1906.1" y1="322.6" x2="1909.5" y2="322.6" stroke="#3c3c3c" stroke-width="1.2" />
<line x1="1566.7" y1="273.84999999999997" x2="1566.7" y2="616.5500000000001" stroke="#0a0505" stroke-width="2.5" />
<line x1="1565.45" y1="615.3000000000001" x2="1907.8000000000002" y2="615.3000000000001" stroke="#0a0505" stroke-width="2.5" />
<text x="1554.0" y="625.5" font-size="33.8" fill="#231815" stroke="#231815" stroke-width="0.3" text-anchor="end" >0</text>
<line x1="1566.7" y1="546.7" x2="1572.1000000000001" y2="546.7" stroke="#0a0505" stroke-width="2.5" />
<text x="1554.0" y="556.9" font-size="33.8" fill="#231815" stroke="#231815" stroke-width="0.3" text-anchor="end" >20</text>
<line x1="1566.7" y1="478.8" x2="1572.1000000000001" y2="478.8" stroke="#0a0505" stroke-width="2.5" />
<text x="1554.0" y="488.3" font-size="33.8" fill="#231815" stroke="#231815" stroke-width="0.3" text-anchor="end" >40</text>
<line x1="1566.7" y1="410.9" x2="1572.1000000000001" y2="410.9" stroke="#0a0505" stroke-width="2.5" />
<text x="1554.0" y="419.7" font-size="33.8" fill="#231815" stroke="#231815" stroke-width="0.3" text-anchor="end" >60</text>
<line x1="1566.7" y1="343.0" x2="1572.1000000000001" y2="343.0" stroke="#0a0505" stroke-width="2.5" />
<text x="1554.0" y="351.1" font-size="33.8" fill="#231815" stroke="#231815" stroke-width="0.3" text-anchor="end" >80</text>
<line x1="1566.7" y1="275.09999999999997" x2="1572.1000000000001" y2="275.09999999999997" stroke="#0a0505" stroke-width="2.5" />
<text x="1554.0" y="282.5" font-size="33.8" fill="#231815" stroke="#231815" stroke-width="0.3" text-anchor="end" >100</text>
<line x1="1623.55" y1="614.6" x2="1623.55" y2="604.6" stroke="#0a0505" stroke-width="2.1" />
<line x1="1680.4" y1="614.6" x2="1680.4" y2="604.6" stroke="#0a0505" stroke-width="2.1" />
<line x1="1737.25" y1="614.6" x2="1737.25" y2="604.6" stroke="#0a0505" stroke-width="2.1" />
<line x1="1794.1000000000001" y1="614.6" x2="1794.1000000000001" y2="604.6" stroke="#0a0505" stroke-width="2.1" />
<line x1="1850.95" y1="614.6" x2="1850.95" y2="604.6" stroke="#0a0505" stroke-width="2.1" />
<line x1="1907.8000000000002" y1="614.6" x2="1907.8000000000002" y2="604.6" stroke="#0a0505" stroke-width="2.1" />
<text x="1564.3" y="650.0" font-size="33.8" fill="#231815" stroke="#231815" stroke-width="0.3" text-anchor="middle" >0</text>
<text x="1622.8" y="650.0" font-size="33.8" fill="#231815" stroke="#231815" stroke-width="0.3" text-anchor="middle" >10</text>
<text x="1736.5" y="650.0" font-size="33.8" fill="#231815" stroke="#231815" stroke-width="0.3" text-anchor="middle" >30</text>
<text x="1907.0" y="650.0" font-size="33.8" fill="#231815" stroke="#231815" stroke-width="0.3" text-anchor="middle" >60</text>
<text x="1752.75" y="695.5" font-size="28.5" fill="#231815" stroke="#231815" stroke-width="0.3" text-anchor="middle" >Time (min)</text>
<text transform="translate(1497.0,575.7) rotate(-90) scale(0.934,1)" font-size="27.9" fill="#231815" stroke="#231815" stroke-width="0.3">Synthesized</text>
<text transform="translate(1497.0,329.1) rotate(-90) scale(0.986,1)" font-size="27.9" fill="#231815" stroke="#231815" stroke-width="0.3" text-anchor="end">PA (<tspan font-style="italic">μ</tspan>M)</text>
<polyline points="1623.5,555.9 1737.2,424.8 1907.8,327.4" fill="none" stroke="#fec10c" stroke-width="2.0"/>
<polyline points="1623.5,528.7 1737.2,369.5 1907.8,337.2" fill="none" stroke="#548235" stroke-width="1.7"/>
<polyline points="1623.5,524.6 1737.2,377.3 1907.8,346.7" fill="none" stroke="#4674c5" stroke-width="1.3"/>
<polyline points="1623.5,533.1 1737.2,360.0 1907.8,355.2" fill="none" stroke="#c55e14" stroke-width="1.3"/>
<polyline points="1623.5,614.2 1737.2,614.2 1907.8,614.2" fill="none" stroke="#000000" stroke-width="3.3"/>
<circle cx="1623.5" cy="555.9" r="6.6" fill="#fec10c"/>
<circle cx="1737.2" cy="424.8" r="6.6" fill="#fec10c"/>
<circle cx="1907.8" cy="327.4" r="6.6" fill="#fec10c"/>
<circle cx="1623.5" cy="528.7" r="6.6" fill="#548235"/>
<circle cx="1737.2" cy="369.5" r="6.6" fill="#548235"/>
<circle cx="1907.8" cy="337.2" r="6.6" fill="#548235"/>
<circle cx="1623.5" cy="524.6" r="6.6" fill="#4674c5"/>
<circle cx="1737.2" cy="377.3" r="6.6" fill="#4674c5"/>
<circle cx="1907.8" cy="346.7" r="6.6" fill="#4674c5"/>
<circle cx="1623.5" cy="533.1" r="6.6" fill="#c55e14"/>
<circle cx="1737.2" cy="360.0" r="6.6" fill="#c55e14"/>
<circle cx="1907.8" cy="355.2" r="6.6" fill="#c55e14"/>
<circle cx="1623.5" cy="614.2" r="6.7" fill="#000000"/>
<circle cx="1737.2" cy="614.2" r="6.7" fill="#000000"/>
<circle cx="1907.8" cy="614.2" r="6.7" fill="#000000"/>
<circle cx="1623.5" cy="561.0" r="3.35" fill="none" stroke="#fec10c" stroke-width="1.7"/>
<circle cx="1737.2" cy="455.0" r="3.35" fill="none" stroke="#fec10c" stroke-width="1.7"/>
<circle cx="1737.2" cy="431.9" r="3.35" fill="none" stroke="#fec10c" stroke-width="1.7"/>
<circle cx="1737.2" cy="424.5" r="3.35" fill="none" stroke="#fec10c" stroke-width="1.7"/>
<circle cx="1737.2" cy="392.2" r="3.35" fill="none" stroke="#fec10c" stroke-width="1.7"/>
<circle cx="1907.8" cy="281.9" r="3.35" fill="none" stroke="#fec10c" stroke-width="1.7"/>
<circle cx="1907.8" cy="317.5" r="3.35" fill="none" stroke="#fec10c" stroke-width="1.7"/>
<circle cx="1907.8" cy="327.7" r="3.35" fill="none" stroke="#fec10c" stroke-width="1.7"/>
<circle cx="1623.5" cy="512.8" r="3.35" fill="none" stroke="#548235" stroke-width="1.7"/>
<circle cx="1623.5" cy="531.4" r="3.35" fill="none" stroke="#548235" stroke-width="1.7"/>
<circle cx="1737.2" cy="315.2" r="3.35" fill="none" stroke="#548235" stroke-width="1.7"/>
<circle cx="1737.2" cy="393.9" r="3.35" fill="none" stroke="#548235" stroke-width="1.7"/>
<circle cx="1737.2" cy="400.7" r="3.35" fill="none" stroke="#548235" stroke-width="1.7"/>
<circle cx="1907.8" cy="313.1" r="3.35" fill="none" stroke="#548235" stroke-width="1.7"/>
<circle cx="1907.8" cy="320.9" r="3.35" fill="none" stroke="#548235" stroke-width="1.7"/>
<circle cx="1907.8" cy="379.7" r="3.35" fill="none" stroke="#548235" stroke-width="1.7"/>
<circle cx="1623.5" cy="508.7" r="3.35" fill="none" stroke="#4674c5" stroke-width="1.7"/>
<circle cx="1623.5" cy="526.3" r="3.35" fill="none" stroke="#4674c5" stroke-width="1.7"/>
<circle cx="1737.2" cy="298.9" r="3.35" fill="none" stroke="#4674c5" stroke-width="1.7"/>
<circle cx="1737.2" cy="408.2" r="3.35" fill="none" stroke="#4674c5" stroke-width="1.7"/>
<circle cx="1737.2" cy="423.8" r="3.35" fill="none" stroke="#4674c5" stroke-width="1.7"/>
<circle cx="1907.8" cy="324.3" r="3.35" fill="none" stroke="#4674c5" stroke-width="1.7"/>
<circle cx="1907.8" cy="391.2" r="3.35" fill="none" stroke="#4674c5" stroke-width="1.7"/>
<circle cx="1623.5" cy="520.2" r="3.35" fill="none" stroke="#c55e14" stroke-width="1.7"/>
<circle cx="1623.5" cy="543.3" r="3.35" fill="none" stroke="#c55e14" stroke-width="1.7"/>
<circle cx="1737.2" cy="322.6" r="3.35" fill="none" stroke="#c55e14" stroke-width="1.7"/>
<circle cx="1737.2" cy="392.2" r="3.35" fill="none" stroke="#c55e14" stroke-width="1.7"/>
<circle cx="1907.8" cy="332.8" r="3.35" fill="none" stroke="#c55e14" stroke-width="1.7"/>
<circle cx="1907.8" cy="402.4" r="3.35" fill="none" stroke="#c55e14" stroke-width="1.7"/>
<text x="1997.5" y="270.7" font-size="33.5" fill="#c55e14" stroke="#c55e14" stroke-width="0.3" text-anchor="end" >CoA (mM)</text>
<text x="1932" y="310.5" font-size="33.5" fill="#c55e14" stroke="#c55e14" stroke-width="0.3" >2.0</text>
<text x="1932" y="340.2" font-size="33.5" fill="#4674c5" stroke="#4674c5" stroke-width="0.3" >1.0</text>
<text x="1932" y="366.4" font-size="33.5" fill="#548235" stroke="#548235" stroke-width="0.3" >0.5</text>
<text x="1932" y="394" font-size="33.5" fill="#fec10c" stroke="#fec10c" stroke-width="0.3" >0.25</text>
<text x="1943" y="622.5" font-size="33.5" fill="#231815" stroke="#231815" stroke-width="0.3" text-anchor="middle" >0</text>
</g>
</svg>
</body>
</html>
